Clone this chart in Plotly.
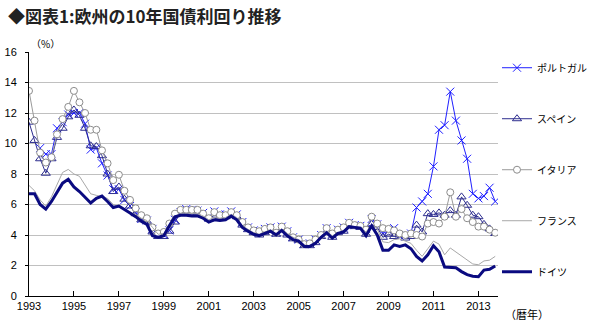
import plotly.graph_objects as go

# quarterly observations 1993Q1 .. 2013Q4
years = list(range(1993, 2014))
quarters = [f"{y}-{m:02d}-01" for y in years for m in (1, 4, 7, 10)]

series_names = ["ポルトガル", "スペイン", "イタリア", "フランス", "ドイツ"]

portugal = [
    None, None, 9.7, 9.3,
    9.3, 11.0, 11.4, 11.9,
    12.0, 12.0, 11.3, 9.6,
    9.7, 8.7, 7.9, 7.0,
    7.0, 6.3, 5.9, 5.5,
    5.05, 4.95, 4.4, 4.0,
    4.0, 4.3, 5.0, 5.5,
    5.7, 5.65, 5.6, 5.45,
    5.15, 5.55, 5.35, 5.35,
    5.55, 5.35, 4.85, 4.5,
    4.3, 4.25, 4.4, 4.5,
    4.15, 4.55, 4.25, 3.85,
    3.7, 3.4, 3.45, 3.7,
    4.0, 4.45, 4.1, 4.35,
    4.5, 4.8, 4.65, 4.6,
    4.4, 5.05, 4.7, 4.1,
    4.3, 4.45, 3.95, 4.0,
    4.1, 5.8, 6.2, 6.7,
    8.5, 10.9, 11.2, 13.4,
    11.5, 10.2, 9.0, 6.7,
    6.4, 6.55, 7.1, 6.2,
]

spain = [
    11.4, 10.2, 9.0, 8.05,
    9.0, 10.4, 11.0, 11.75,
    12.2, 11.85, 11.0, 9.85,
    9.8, 9.2, 8.0, 6.85,
    7.15, 6.35, 5.9, 5.4,
    5.0, 4.9, 4.2, 3.9,
    3.9, 4.25, 4.85, 5.45,
    5.5, 5.5, 5.45, 5.3,
    5.05, 5.3, 5.2, 5.2,
    5.4, 5.2, 4.65, 4.35,
    4.15, 4.0, 4.15, 4.3,
    4.05, 4.35, 4.0, 3.75,
    3.65, 3.3, 3.3, 3.5,
    3.9, 4.2, 3.85, 4.15,
    4.25, 4.6, 4.55, 4.5,
    4.05, 4.7, 4.5, 3.85,
    4.05, 3.9, 4.0, 3.8,
    3.9, 4.65, 4.2, 5.4,
    5.35, 5.45, 5.3, 5.6,
    5.3, 6.5, 5.95, 5.3,
    5.2, 4.7, 4.4, 4.1,
]

italy = [
    13.45, 11.5, 9.4, 8.75,
    9.1, 10.6, 11.6, 12.4,
    13.45, 12.7, 12.0, 10.9,
    10.9, 9.55, 8.7, 7.6,
    7.95, 6.9, 6.3, 5.75,
    5.3, 5.1, 4.5, 4.1,
    4.2, 4.75, 5.4, 5.65,
    5.65, 5.65, 5.65, 5.4,
    5.1, 5.5, 5.3, 5.3,
    5.5, 5.3, 4.85, 4.5,
    4.3, 4.25, 4.4, 4.5,
    4.15, 4.55, 4.25, 3.85,
    3.7, 3.4, 3.45, 3.7,
    4.0, 4.45, 4.1, 4.35,
    4.5, 4.8, 4.65, 4.6,
    4.35, 5.2, 4.75, 4.45,
    4.4, 4.3, 4.1, 4.0,
    4.1, 4.0, 3.9, 4.75,
    4.85, 4.75, 5.2, 6.8,
    5.2, 5.7, 5.1, 4.85,
    4.55, 4.55, 4.35, 4.15,
]

france = [
    7.25, 6.9, 6.3, 5.9,
    6.5, 7.3, 8.1, 8.3,
    8.0, 7.85, 7.3, 6.7,
    6.6, 6.5, 6.4, 6.0,
    5.8, 5.65, 5.5, 5.35,
    5.1, 4.95, 4.5, 4.05,
    4.1, 4.6, 5.2, 5.4,
    5.45, 5.4, 5.4, 5.25,
    5.0, 5.15, 5.1, 5.15,
    5.35, 5.15, 4.6, 4.35,
    4.15, 4.05, 4.2, 4.35,
    4.1, 4.4, 4.1, 3.85,
    3.7, 3.35, 3.3, 3.5,
    3.95, 4.25, 3.95, 4.15,
    4.3, 4.6, 4.55, 4.5,
    4.2, 4.65, 4.4, 3.55,
    3.5, 3.7, 3.75, 3.6,
    3.45, 3.0, 2.6, 3.1,
    3.6, 3.4, 2.7, 3.15,
    2.9, 2.65, 2.35, 2.1,
    2.05, 2.3, 2.35, 2.6,
]

germany = [
    6.7, 6.7, 6.0, 5.7,
    6.2, 6.8, 7.4, 7.65,
    7.15, 6.85, 6.5, 6.1,
    6.4, 6.55, 6.2, 5.8,
    5.9, 5.65, 5.45, 5.2,
    4.9, 4.7, 3.95, 3.85,
    3.95, 4.6, 5.2, 5.3,
    5.3, 5.25, 5.25, 5.1,
    4.85, 5.0, 4.95, 5.0,
    5.25, 5.0, 4.5, 4.25,
    4.05, 3.95, 4.1, 4.25,
    4.0, 4.3, 3.95, 3.7,
    3.6, 3.25, 3.25, 3.45,
    3.85, 4.15, 3.8, 4.1,
    4.2, 4.55, 4.5, 4.45,
    3.95, 4.6, 4.0, 3.0,
    3.0, 3.35, 3.25, 3.35,
    3.1, 2.6, 2.3, 2.7,
    3.3, 2.9, 1.9, 1.87,
    1.85, 1.6, 1.4, 1.3,
    1.27, 1.7, 1.75, 1.97,
]

y_ticks = [0, 2, 4, 6, 8, 10, 12, 14, 16]
x_ticks = [f"{y}-01-01" for y in range(1993, 2014, 2)]
x_tick_labels = [str(y) for y in range(1993, 2014, 2)]

JP = "Noto Sans CJK JP"
NUM = "Liberation Sans"

fig = go.Figure()

styles = [
    dict(mode="lines+markers", line=dict(color="#1f1fff", width=1),
         marker=dict(symbol="x-thin-open", size=8, color="#1f1fff",
                     line=dict(color="#1f1fff", width=1))),
    dict(mode="lines+markers", line=dict(color="#2e2e8f", width=1),
         marker=dict(symbol="triangle-up-open", size=8, color="#2e2e8f",
                     line=dict(color="#2e2e8f", width=1))),
    dict(mode="lines+markers", line=dict(color="#9a9a9a", width=1),
         marker=dict(symbol="circle", size=7, color="white",
                     line=dict(color="#8c8c8c", width=1))),
    dict(mode="lines", line=dict(color="#a8a8a8", width=1)),
    dict(mode="lines", line=dict(color="#0a0a80", width=3)),
]

for name, vals, st in zip(series_names, [portugal, spain, italy, france, germany], styles):
    fig.add_trace(go.Scatter(x=quarters, y=vals, name=name, legendgroup=name,
                             connectgaps=False, **st))

fig.update_layout(
    width=590, height=327, autosize=False,
    margin=dict(l=29, r=92, t=52, b=31, autoexpand=False),
    paper_bgcolor="white", plot_bgcolor="white",
    font=dict(family=NUM, size=11, color="black"),
    showlegend=True,
    legend=dict(x=(497 - 29) / 469, y=0.995, xanchor="left", yanchor="top",
                traceorder="grouped", tracegroupgap=32, itemwidth=30,
                font=dict(family=JP, size=10, color="black"),
                bgcolor="rgba(0,0,0,0)", borderwidth=0),
    title=dict(text="<b>◆図表1:欧州の10年国債利回り推移</b>",
               xref="container", yref="container",
               x=8 / 590, xanchor="left", y=1 - 17 / 327, yanchor="middle",
               font=dict(family=JP, size=17, color="#222")),
)

fig.update_xaxes(type="date", range=["1993-01-01", "2013-11-15"],
                 tickvals=x_ticks, ticktext=x_tick_labels,
                 showgrid=False, showline=True, linecolor="black", linewidth=1,
                 ticks="inside", ticklen=5, tickcolor="black",
                 tickfont=dict(family=NUM, size=11), zeroline=False)
fig.update_yaxes(range=[0, 16], tickvals=y_ticks,
                 showgrid=True, gridcolor="#c0c0c0", gridwidth=1,
                 showline=True, linecolor="black", linewidth=1,
                 ticks="outside", ticklen=3, tickcolor="black",
                 tickfont=dict(family=NUM, size=11), zeroline=False,
                 ticklabelstandoff=6)

fig.add_annotation(text="（%）", xref="paper", yref="paper",
                   x=(45 - 29) / 469, y=(296 - 43) / 244, showarrow=False,
                   font=dict(family=JP, size=10), xanchor="center", yanchor="middle")
fig.add_annotation(text="（暦年）", xref="paper", yref="paper",
                   x=(527 - 29) / 469, y=(296 - 314) / 244, showarrow=False,
                   font=dict(family=JP, size=11), xanchor="center", yanchor="middle")

fig.write_html("out.html")
